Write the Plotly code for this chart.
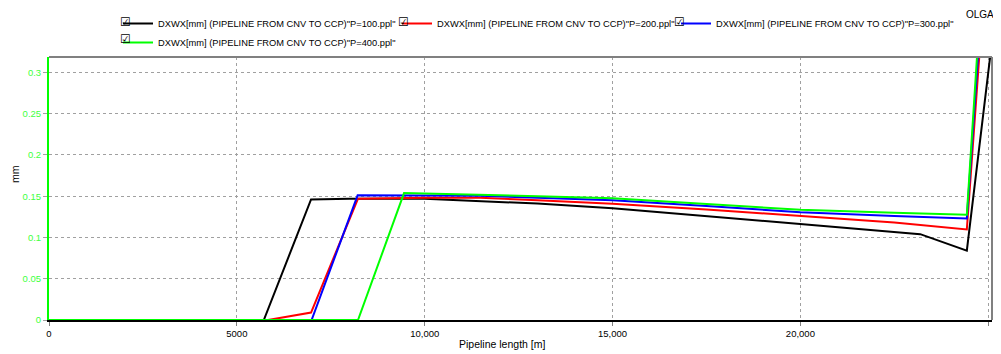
import plotly.graph_objects as go

names = [
    'DXWX[mm] (PIPELINE FROM CNV TO CCP)"P=100.ppl"',
    'DXWX[mm] (PIPELINE FROM CNV TO CCP)"P=200.ppl"',
    'DXWX[mm] (PIPELINE FROM CNV TO CCP)"P=300.ppl"',
    'DXWX[mm] (PIPELINE FROM CNV TO CCP)"P=400.ppl"',
]
colors = ["#000000", "#ff0000", "#0000ff", "#00ff00"]

x_p100 = [0, 5718, 6975, 8000, 10000, 11475, 13000, 15000, 17000, 20000, 22000, 23190, 24430, 25080]
y_p100 = [0, 0, 0.146, 0.147, 0.147, 0.144, 0.141, 0.1355, 0.128, 0.1165, 0.109, 0.104, 0.084, 0.33]

x_p200 = [0, 5830, 6975, 8225, 10000, 11475, 13000, 15000, 17500, 20000, 22500, 24430, 25000]
y_p200 = [0, 0, 0.009, 0.147, 0.148, 0.148, 0.145, 0.1408, 0.134, 0.1258, 0.118, 0.1096, 0.47]

x_p300 = [0, 6990, 8215, 10000, 11475, 13000, 15000, 17500, 20000, 22500, 24430, 25000]
y_p300 = [0, 0, 0.151, 0.151, 0.1505, 0.148, 0.1452, 0.138, 0.1306, 0.126, 0.123, 0.50]

x_p400 = [0, 8225, 9450, 11475, 13000, 15000, 17500, 20000, 22500, 24430, 25000]
y_p400 = [0, 0, 0.1537, 0.152, 0.150, 0.1476, 0.141, 0.1335, 0.130, 0.1275, 0.53]

x_tickvals = [0, 5000, 10000, 15000, 20000, 25000]
x_ticktext = ["0", "5000", "10,000", "15,000", "20,000", "25,000"]
y_tickvals = [0, 0.05, 0.1, 0.15, 0.2, 0.25, 0.3]
y_ticktext = ["0", "0.05", "0.1", "0.15", "0.2", "0.25", "0.3"]

# page has an 8px body margin; figure is drawn offset by 8px
OFF = 8
W, H = 1001 - OFF, 354 - OFF
L, R, T, B = 49 - OFF, 9, 57 - OFF, 34
pw, ph = W - L - R, H - T - B

def px(x):  # page pixel -> paper x
    return (x - OFF - L) / pw

def py(y):  # page pixel -> paper y
    return (H - B - (y - OFF)) / ph

fig = go.Figure()
for xs, ys, n, c in zip([x_p100, x_p200, x_p300, x_p400],
                        [y_p100, y_p200, y_p300, y_p400], names, colors):
    fig.add_trace(go.Scatter(x=xs, y=ys, name=n, mode="lines",
                             line=dict(color=c, width=2), cliponaxis=True))

font = "Liberation Sans, Arial, sans-serif"
FS = 9.5
LFS = 9.3
fig.update_layout(
    width=W, height=H,
    margin=dict(l=L, r=R, t=T, b=B, autoexpand=False),
    paper_bgcolor="white", plot_bgcolor="white",
    font=dict(family=font, size=FS, color="black"),
    showlegend=True,
    legend=dict(orientation="h", x=px(118), y=py(9), xanchor="left", yanchor="top",
                entrywidth=234, entrywidthmode="pixels",
                font=dict(family=font, size=LFS, color="black"),
                bgcolor="rgba(0,0,0,0)", tracegroupgap=0, itemwidth=30),
    xaxis=dict(range=[0, 25100], tickvals=x_tickvals, ticktext=x_ticktext, automargin=False,
               showgrid=True, gridcolor="#a0a0a0", griddash="dot", gridwidth=1,
               zeroline=False, showline=True, linecolor="#000000", linewidth=2,
               mirror=False, ticks="outside", ticklen=4, tickcolor="#808080",
               tickfont=dict(family=font, size=FS, color="black")),
    yaxis=dict(range=[0, 0.3186], tickvals=y_tickvals, ticktext=y_ticktext, automargin=False,
               showgrid=True, gridcolor="#a0a0a0", griddash="dot", gridwidth=1,
               zeroline=False, showline=True, linecolor="#00ff00", linewidth=2,
               ticks="outside", ticklen=4, tickcolor="#a0a0a0",
               tickfont=dict(family=font, size=FS, color="#40ff40")),
)

# top and right frame
fig.add_shape(type="line", xref="paper", yref="paper", x0=0, x1=1, y0=1, y1=1,
              line=dict(color="#808080", width=2))
fig.add_shape(type="line", xref="paper", yref="paper", x0=1, x1=1, y0=0, y1=1,
              line=dict(color="#808080", width=2))

annotations = [
    dict(text="Pipeline length [m]", x=px(502), y=py(344), xref="paper", yref="paper",
         showarrow=False, xanchor="center", yanchor="middle",
         font=dict(family=font, size=10.5, color="black")),
    dict(text="mm", x=px(15), y=py(174), xref="paper", yref="paper", textangle=-90,
         showarrow=False, xanchor="center", yanchor="middle",
         font=dict(family=font, size=10.5, color="black")),
    dict(text="OLGA*", x=px(1000), y=py(14), xref="paper", yref="paper",
         showarrow=False, xanchor="right", yanchor="middle",
         font=dict(family=font, size=10, color="black")),
]
for cx, cy in [(125, 22), (403, 22), (679, 22), (125, 39)]:
    annotations.append(dict(text="☑", x=px(cx), y=py(cy), xref="paper", yref="paper",
                            showarrow=False, xanchor="center", yanchor="middle",
                            font=dict(family="DejaVu Sans", size=12, color="#000000")))
fig.update_layout(annotations=annotations)

fig.write_html("out.html")
